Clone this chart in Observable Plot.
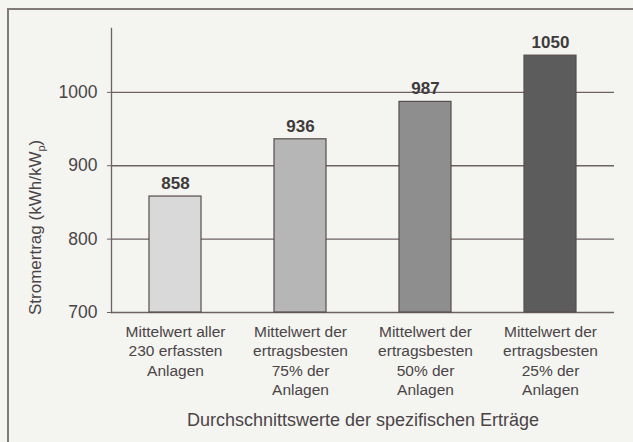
<!DOCTYPE html>
<html><head><meta charset="utf-8">
<script src="https://cdn.jsdelivr.net/npm/d3@7"></script>
<script src="https://cdn.jsdelivr.net/npm/@observablehq/plot@0.6"></script>
<style>
html,body{margin:0;padding:0;background:#f4f4f1;width:633px;height:442px;overflow:hidden;}
#frame{position:absolute;left:7px;top:8px;width:700px;height:600px;border:2px solid #807a7a;box-sizing:border-box;}
#chart{position:absolute;left:0;top:0;}
</style></head>
<body>
<div id="frame"></div>
<div id="chart"></div>
<script>
const categories = ["A","B","C","D"];
const tickLabels = [
  "Mittelwert aller\n230 erfassten\nAnlagen",
  "Mittelwert der\nertragsbesten\n75% der\nAnlagen",
  "Mittelwert der\nertragsbesten\n50% der\nAnlagen",
  "Mittelwert der\nertragsbesten\n25% der\nAnlagen"
];
const values = [858, 936, 987, 1050];
const colors = ["#d9d9d9", "#b6b6b6", "#8e8e8e", "#5c5c5c"];
const yTicks = [700, 800, 900, 1000];
const yLabel = "Stromertrag (kWh/kW";
const xTitle = "Durchschnittswerte der spezifischen Erträge";

const data = categories.map((c, i) => ({cat: c, value: values[i], color: colors[i]}));
const lineColor = "#6c6264";
const textColor = "#3f3a3b";
const font = "'Liberation Sans', Arial, sans-serif";

const chart = Plot.plot({
  width: 633,
  height: 442,
  marginLeft: 111,
  marginRight: 19,
  marginTop: 28,
  marginBottom: 130,
  style: {background: "transparent", fontFamily: font, color: textColor},
  x: {domain: categories, paddingInner: 0.586, paddingOuter: 0.293},
  y: {domain: [700, 1087]},
  marks: [
    Plot.ruleY(yTicks, {stroke: lineColor, strokeWidth: 1.3}),
    Plot.frame({anchor: "left", stroke: lineColor, strokeWidth: 1.3}),
    Plot.barY(data, {x: "cat", y1: 700, y2: "value", fill: "color", stroke: "#564c4e", strokeWidth: 1.2}),
    Plot.text(data, {x: "cat", y: "value", text: d => String(d.value), dy: -13, fontSize: 17, fontWeight: "bold", fill: textColor}),
    Plot.axisY(yTicks, {tickSize: 4, tickPadding: 10, fontSize: 17.5, stroke: lineColor, fill: "#4a4446", label: null, tickFormat: d => String(d)}),
    Plot.axisX(categories, {tickSize: 0, tickPadding: 11, fontSize: 15.5, lineHeight: 1.24, fill: "#4a4446", label: null,
      tickFormat: d => tickLabels[categories.indexOf(d)], lineAnchor: "top"}),
    Plot.text([xTitle], {frameAnchor: "bottom", dy: 113, fontSize: 18, fill: "#4a4446"}),
    Plot.text([yLabel], {frameAnchor: "left", y: () => 816, dx: -76, rotate: -90, textAnchor: "middle", fontSize: 17, fill: "#4a4446", className: "ylab"})
  ]
});
document.getElementById("chart").appendChild(chart);
// add subscript p to the y label
const yl = chart.querySelector(".ylab text");
if (yl) {
  const sub = document.createElementNS("http://www.w3.org/2000/svg", "tspan");
  sub.setAttribute("font-size", "11");
  sub.setAttribute("dy", "4");
  sub.textContent = "p";
  const close = document.createElementNS("http://www.w3.org/2000/svg", "tspan");
  close.setAttribute("dy", "-4");
  close.textContent = ")";
  yl.appendChild(sub);
  yl.appendChild(close);
}
</script>
</body></html>
